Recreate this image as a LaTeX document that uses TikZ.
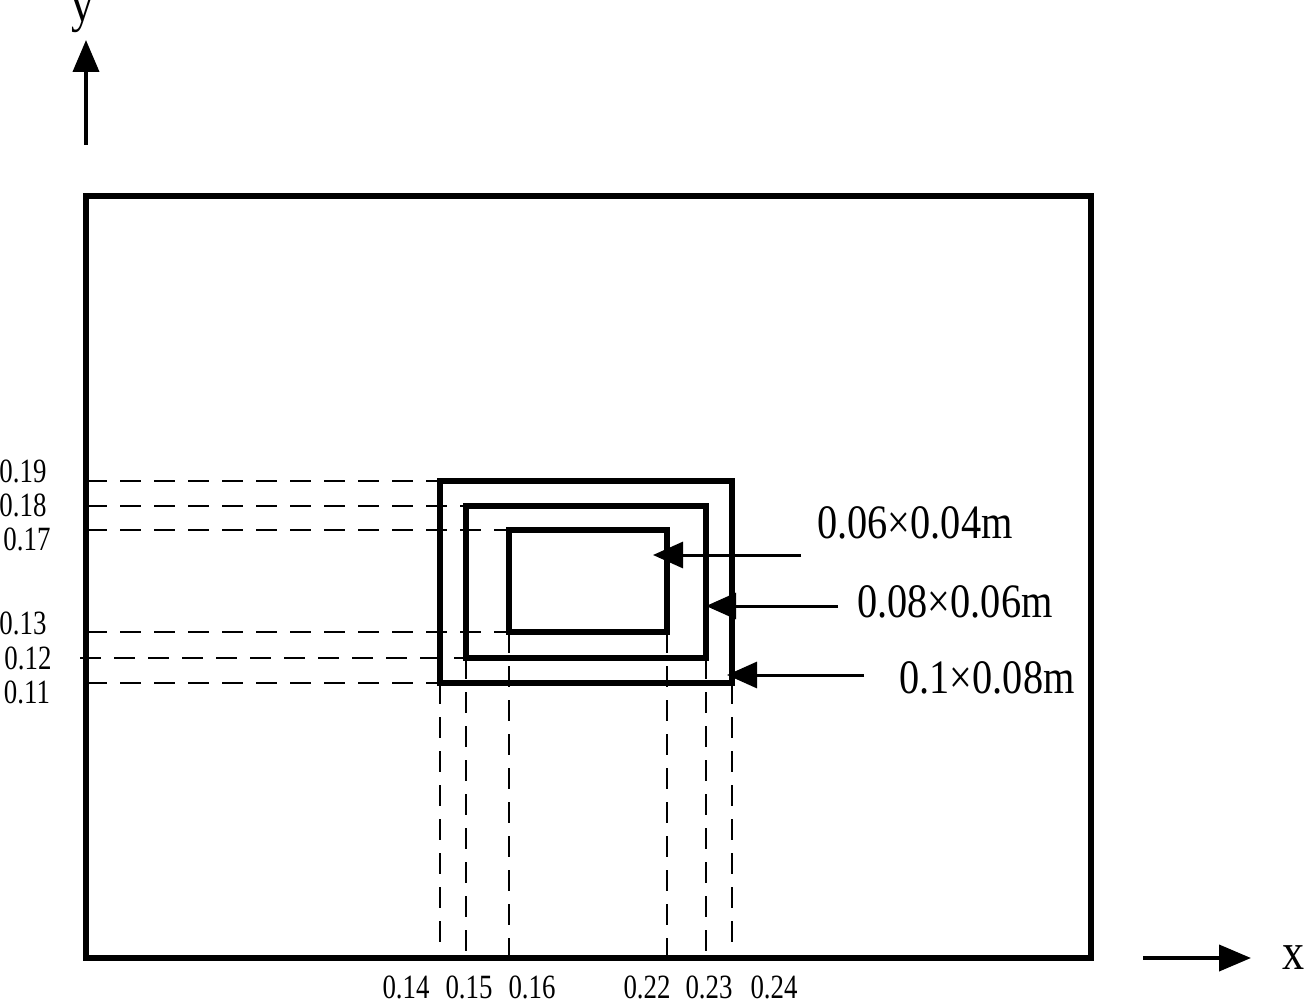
\documentclass[tikz,border=0pt]{standalone}
\usepackage{fontspec}
\setmainfont{Liberation Serif}
\usetikzlibrary{arrows.meta}
\begin{document}
\begin{tikzpicture}[x=1pt,y=-1pt,
  thickbox/.style={line width=6pt,line join=miter},
  dimline/.style={line width=2pt,dash pattern=on 21pt off 13pt},
  callout/.style={line width=3pt,-{Triangle[length=30pt,width=26pt]}},
  axisarrow/.style={line width=4pt,-{Triangle[length=32pt,width=26pt]}},
  smalllab/.style={font=\fontsize{34}{36}\selectfont,xscale=0.79,inner sep=0pt},
  biglab/.style={font=\fontsize{48}{50}\selectfont,xscale=0.84,inner sep=0pt},
  axislab/.style={font=\fontsize{52}{54}\selectfont,xscale=0.85,inner sep=0pt}]
\useasboundingbox (0,0) rectangle (1306,1000);
\fill[white] (0,0) rectangle (1306,1000);
% outer domain
\draw[thickbox] (86,196) rectangle (1091,958);
% dashed dimension lines (horizontal)
\draw[dimline] (86,481) -- (440,481);
\draw[dimline] (86,506) -- (466,506);
\draw[dimline] (86,530) -- (509,530);
\draw[dimline] (86,632) -- (509,632);
\draw[dimline] (80,658) -- (466,658);
\draw[dimline] (86,683) -- (440,683);
% dashed dimension lines (vertical)
\draw[dimline] (440,683) -- (440,958);
\draw[dimline] (466,658) -- (466,958);
\draw[dimline] (509,632) -- (509,958);
\draw[dimline] (667,632) -- (667,958);
\draw[dimline] (706,658) -- (706,958);
\draw[dimline] (732,683) -- (732,958);
% nested rectangles
\draw[thickbox] (440,481) rectangle (732,683);
\draw[thickbox] (466,506) rectangle (706,658);
\draw[thickbox] (509,530) rectangle (667,632);
% left labels
\node[smalllab] (l19) at (23,471) {0.19};
\node[smalllab] (l18) at (23,505) {0.18};
\node[smalllab] (l17) at (27,539) {0.17};
\node[smalllab] (l13) at (23,623) {0.13};
\node[smalllab] (l12) at (28,658) {0.12};
\node[smalllab] (l11) at (27,692) {0.11};
% bottom labels
\node[smalllab] (b14) at (406,987) {0.14};
\node[smalllab] (b15) at (469,987) {0.15};
\node[smalllab] (b16) at (532,987) {0.16};
\node[smalllab] (b22) at (647,987) {0.22};
\node[smalllab] (b23) at (709,987) {0.23};
\node[smalllab] (b24) at (774,987) {0.24};
% size labels and callouts
\node[biglab] (s1) at (915,523) {0.06×0.04m};
\node[biglab] (s2) at (955,602) {0.08×0.06m};
\node[biglab] (s3) at (987,678) {0.1×0.08m};
\coordinate (a1s) at (801,555);
\coordinate (a1e) at (653,555);
\coordinate (a2s) at (838,606);
\coordinate (a2e) at (706,606);
\coordinate (a3s) at (864,675);
\coordinate (a3e) at (727,675);
\draw[callout] (a1s) -- (a1e);
\draw[callout] (a2s) -- (a2e);
\draw[callout] (a3s) -- (a3e);
% axes
\coordinate (ya) at (86,145);
\coordinate (yb) at (86,40);
\coordinate (xa) at (1143,958);
\coordinate (xb) at (1251,958);
\draw[axisarrow] (ya) -- (yb);
\draw[axisarrow] (xa) -- (xb);
\node[axislab,anchor=base] (ylab) at (83,22) {y};
\node[axislab] (xlab) at (1294,958) {x};
\end{tikzpicture}
\end{document}
